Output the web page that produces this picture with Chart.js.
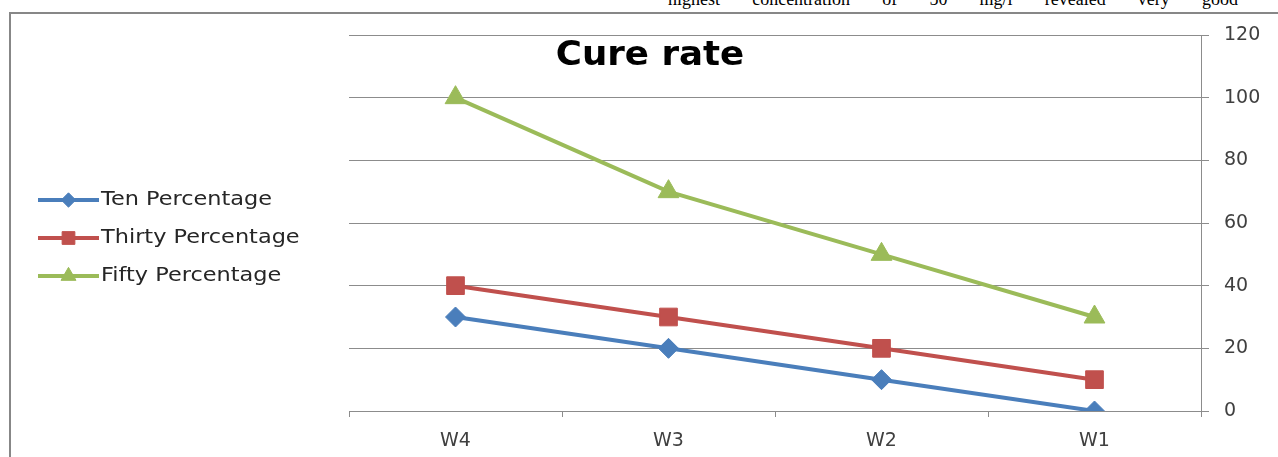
<!DOCTYPE html>
<html>
<head>
<meta charset="utf-8">
<script src="https://cdn.jsdelivr.net/npm/chart.js@4/dist/chart.umd.min.js"></script>
<style>
  html, body { margin: 0; padding: 0; background: #fff; overflow: hidden; }
  #wrap { position: relative; width: 1278px; height: 457px; }
  #frame { position: absolute; left: 9px; top: 12px; right: -4px; bottom: -4px;
    border-top: 2px solid #878787; border-left: 2px solid #878787; }
  #para { position: absolute; left: 668px; top: -10px; width: 570px;
    font: 18px "Liberation Serif", serif; line-height: 18px; color: #000;
    text-align: justify; text-align-last: justify; white-space: nowrap; }
  #title { position: absolute; left: 450px; top: 37px; width: 400px; text-align: center;
    font: bold 33px "DejaVu Sans", sans-serif; line-height: 33px; color: #000;
    transform: scaleX(1.08); }
  canvas { position: absolute; left: 0; top: 0; }
</style>
</head>
<body>
<div id="wrap">
  <div id="para">highest concentration of 50 mg/l revealed very good</div>
  <div id="frame"></div>
  <canvas id="chart" width="1278" height="457"></canvas>
  <div id="title">Cure rate</div>
</div>
<script>
// data
const weeks = ["W4", "W3", "W2", "W1"];
const seriesNames = ["Ten Percentage", "Thirty Percentage", "Fifty Percentage"];
const tenValues = [30, 20, 10, 0];
const thirtyValues = [40, 30, 20, 10];
const fiftyValues = [100, 70, 50, 30];
const yTicks = [0, 20, 40, 60, 80, 100, 120];

const COLORS = ["#4a7ebb", "#c0504d", "#9bbb59"];
const STYLES = ["rectRot", "rect", "triangle"];
const RADII = [10, 12.5, 12];
const GRID = "#8c8c8c";
const FONT = "'DejaVu Sans', sans-serif";

// legend on the left, line with marker in the middle
const leftLegend = {
  id: "leftLegend",
  afterDraw(chart) {
    const ctx = chart.ctx;
    chart.data.datasets.forEach((ds, i) => {
      const y = 200 + i * 38;
      ctx.save();
      ctx.strokeStyle = ds.borderColor;
      ctx.lineWidth = ds.borderWidth;
      ctx.beginPath();
      ctx.moveTo(38, y);
      ctx.lineTo(99, y);
      ctx.stroke();
      ctx.fillStyle = ds.borderColor;
      ctx.lineWidth = 1;
      Chart.helpers.drawPoint(ctx, { pointStyle: ds.pointStyle, radius: ds.pointRadius * 0.72, rotation: 0, borderWidth: 1 }, 68.5, y);
      // the original glyphs are a bit wider than DejaVu
      ctx.translate(101, y);
      ctx.scale(1.18, 1);
      ctx.fillStyle = "#262626";
      ctx.font = "19px " + FONT;
      ctx.textBaseline = "middle";
      ctx.textAlign = "left";
      ctx.fillText(ds.label, 0, 0);
      ctx.restore();
    });
  }
};

const values = [tenValues, thirtyValues, fiftyValues];
const datasets = seriesNames.map((name, i) => ({
  label: name,
  data: values[i],
  borderColor: COLORS[i],
  backgroundColor: COLORS[i],
  borderWidth: 4,
  pointStyle: STYLES[i],
  pointRadius: RADII[i],
  pointBorderWidth: 1,
  pointBackgroundColor: COLORS[i],
  pointBorderColor: COLORS[i],
  tension: 0
}));

new Chart(document.getElementById("chart"), {
  type: "line",
  data: { labels: weeks, datasets: datasets },
  options: {
    responsive: false,
    animation: false,
    events: [],
    layout: { padding: { left: 349, top: 35, right: 0, bottom: 0 } },
    plugins: { legend: { display: false }, title: { display: false }, tooltip: { enabled: false } },
    scales: {
      x: {
        offset: true,
        grid: { offset: true, drawOnChartArea: false, drawTicks: true, tickLength: 6, color: GRID },
        border: { display: true, color: GRID, width: 1 },
        ticks: { color: "#404040", font: { family: FONT, size: 19 }, padding: 13 },
        afterFit(scale) { scale.height = 46; }
      },
      y: {
        position: "right",
        min: 0,
        max: 120,
        afterBuildTicks(scale) { scale.ticks = yTicks.map(v => ({ value: v })); },
        grid: { color: GRID, lineWidth: 1, tickLength: 8 },
        border: { display: true, color: GRID, width: 1 },
        ticks: { color: "#404040", font: { family: FONT, size: 19 }, padding: 15 },
        afterFit(scale) { scale.width = 77; }
      }
    }
  },
  plugins: [leftLegend]
});
</script>
</body>
</html>
